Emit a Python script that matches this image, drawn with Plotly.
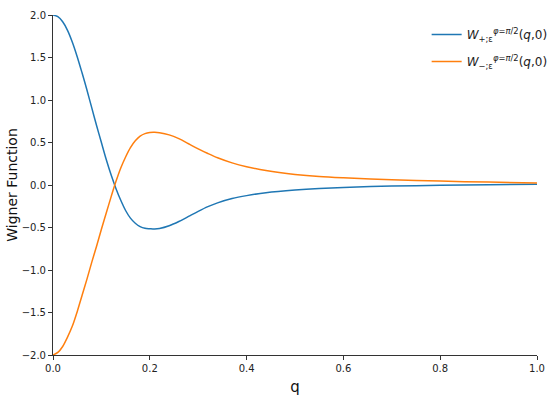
import plotly.graph_objects as go

q = [0.0, 0.01, 0.02, 0.03, 0.04, 0.05, 0.06, 0.07, 0.08, 0.09, 0.10, 0.11, 0.12, 0.13,
     0.14, 0.15, 0.16, 0.17, 0.18, 0.19, 0.20, 0.21, 0.22, 0.24, 0.26, 0.28, 0.30, 0.32,
     0.34, 0.37, 0.40, 0.44, 0.50, 0.55, 0.60, 0.70, 0.80, 0.90, 1.00]

w_plus = [2.00, 1.98, 1.92, 1.82, 1.68, 1.51, 1.32, 1.12, 0.91, 0.70, 0.50, 0.30, 0.12, -0.04,
          -0.18, -0.30, -0.39, -0.45, -0.49, -0.51, -0.515, -0.518, -0.512, -0.48, -0.43, -0.37,
          -0.31, -0.255, -0.21, -0.16, -0.125, -0.09, -0.058, -0.04, -0.028, -0.013, -0.004, 0.003, 0.008]

w_minus = [-2.00, -1.97, -1.90, -1.79, -1.66, -1.49, -1.30, -1.11, -0.91, -0.72, -0.52, -0.33,
           -0.14, 0.04, 0.20, 0.33, 0.44, 0.52, 0.575, 0.605, 0.618, 0.62, 0.615, 0.59, 0.545, 0.485,
           0.425, 0.37, 0.32, 0.26, 0.215, 0.17, 0.125, 0.10, 0.085, 0.063, 0.046, 0.034, 0.025]

x_ticks = [0.0, 0.2, 0.4, 0.6, 0.8, 1.0]
y_ticks = [-2.0, -1.5, -1.0, -0.5, 0.0, 0.5, 1.0, 1.5, 2.0]

label_plus = "<i>W</i><sub>+;ε</sub><sup><i>φ</i>=<i>π</i>/2</sup>(<i>q</i>,0)"
label_minus = "<i>W</i><sub>−;ε</sub><sup><i>φ</i>=<i>π</i>/2</sup>(<i>q</i>,0)"

fig = go.Figure()
fig.add_trace(go.Scatter(x=q, y=w_plus, mode="lines", name=label_plus, legendgroup="plus",
                         line=dict(color="#1f77b4", width=1.5, shape="spline", smoothing=0.9)))
fig.add_trace(go.Scatter(x=q, y=w_minus, mode="lines", name=label_minus, legendgroup="minus",
                         line=dict(color="#ff7f0e", width=1.5, shape="spline", smoothing=0.9)))

axis_common = dict(showgrid=False, zeroline=False, showline=True, linecolor="#333333",
                   linewidth=1, ticks="outside", ticklen=4, tickcolor="#333333",
                   automargin=False,
                   tickfont=dict(family="DejaVu Sans", size=10, color="#222222"))

fig.update_xaxes(range=[0, 1], tickvals=x_ticks, tickformat=".1f",
                 title=dict(text="q", font=dict(family="DejaVu Sans", size=15, color="#111111"),
                            standoff=8),
                 **axis_common)
fig.update_yaxes(range=[-2.0, 2.0], tickvals=y_ticks, tickformat=".1f",
                 title=dict(text="Wigner Function", font=dict(family="DejaVu Sans", size=14, color="#111111"),
                            standoff=0),
                 **axis_common)

fig.update_layout(
    width=550, height=398,
    margin=dict(l=53, r=13, t=15, b=43, autoexpand=False),
    paper_bgcolor="white", plot_bgcolor="white",
    legend=dict(x=0.772, xanchor="left", y=0.985, yanchor="top",
                bgcolor="rgba(0,0,0,0)", font=dict(family="DejaVu Sans", size=12, color="#222222"),
                tracegroupgap=8),
)

fig.write_html("out.html", post_script="document.body.style.margin='0';",
               config={"displayModeBar": False})
